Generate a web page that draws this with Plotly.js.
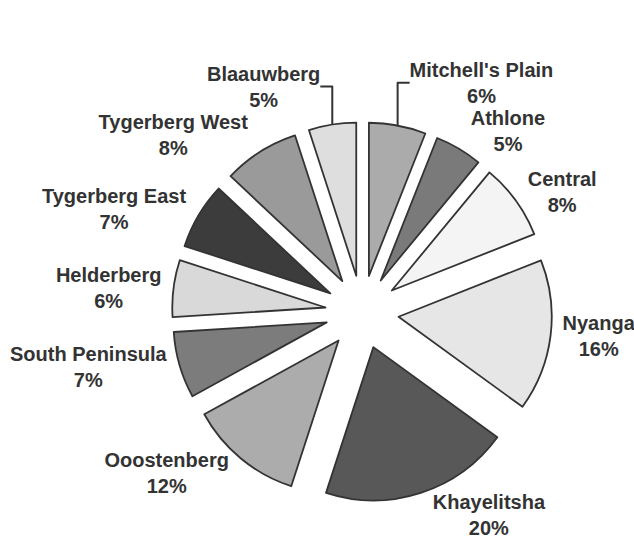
<!DOCTYPE html>
<html>
<head>
<meta charset="utf-8">
<script src="https://cdn.plot.ly/plotly-3.0.1.min.js"></script>
<style>html,body{margin:0;padding:0;background:#fff;}#chart{width:634px;height:550px;}</style>
</head>
<body>
<div id="chart"></div>
<script>
const regions = ["Mitchell's Plain","Athlone","Central","Nyanga","Khayelitsha","Ooostenberg","South Peninsula","Helderberg","Tygerberg East","Tygerberg West","Blaauwberg"];
const shares = [6,5,8,16,20,12,7,6,7,8,5];
const sliceColors = ["#ababab","#7a7a7a","#f4f4f4","#e6e6e6","#585858","#acacac","#7c7c7c","#d9d9d9","#3c3c3c","#9a9a9a","#dedede"];

const trace = {
  type: 'pie',
  labels: regions,
  values: shares,
  sort: false,
  direction: 'clockwise',
  rotation: 0,
  pull: 0.24,
  marker: {colors: sliceColors, line: {color: '#333', width: 1.8}},
  textposition: 'outside',
  texttemplate: '%{label}<br>%{value}%',
  textfont: {family: 'Liberation Sans, Arial, sans-serif', size: 20, color: '#333', weight: 'bold'},
  showlegend: false,
  hoverinfo: 'label+value',
  domain: {x: [0.271, 0.871], y: [0.087, 0.778]}
};

Plotly.newPlot('chart', [trace], {
  width: 634, height: 550,
  margin: {l: 0, r: 0, t: 0, b: 0},
  paper_bgcolor: '#fff',
  showlegend: false
}, {displayModeBar: false, staticPlot: true});
</script>
</body>
</html>
